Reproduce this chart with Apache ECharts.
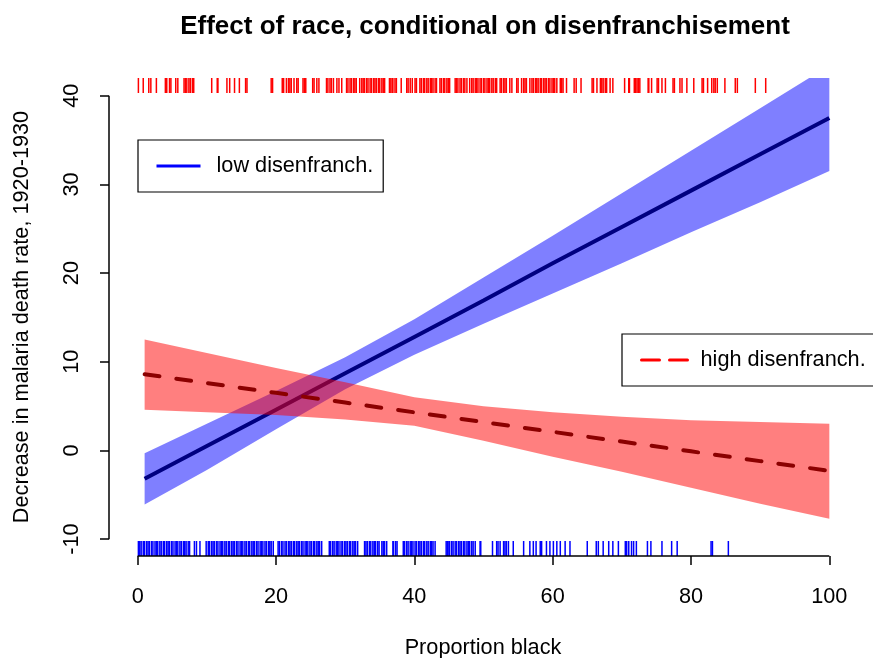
<!DOCTYPE html>
<html><head><meta charset="utf-8">
<script src="https://cdn.jsdelivr.net/npm/echarts@6/dist/echarts.min.js"></script>
<style>html,body{margin:0;padding:0;background:#fff}#c{width:873px;height:658px}</style>
</head><body><div id="c"></div>
<script>
const xTicks = [0, 20, 40, 60, 80, 100];
const yTicks = [-10, 0, 10, 20, 30, 40];
const X_MIN = -4.15, X_MAX = 104, Y_MIN = -11.9, Y_MAX = 42.0;

const bandX     = [1, 10, 20, 30, 40, 50, 60, 70, 80, 90, 100];
const lowFit    = [-3.2, 0.5, 4.6, 8.7, 12.8, 16.9, 21.1, 25.2, 29.3, 33.4, 37.5];
const lowUpper  = [-0.3, 3.0, 6.7, 10.5, 14.8, 19.5, 24.2, 29.0, 33.8, 38.6, 43.4];
const lowLower  = [-6.1, -2.2, 2.4, 6.9, 10.8, 14.3, 17.7, 21.1, 24.6, 28.0, 31.5];
const highFit   = [8.6, 7.6, 6.5, 5.4, 4.3, 3.2, 2.1, 1.0, -0.1, -1.2, -2.3];
const highUpper = [12.5, 11.0, 9.3, 7.7, 6.0, 5.0, 4.3, 3.8, 3.4, 3.2, 3.0];
const highLower = [4.6, 4.3, 4.0, 3.5, 2.8, 1.1, -0.7, -2.4, -4.2, -6.0, -7.7];

const seriesNames = ['low disenfranch.', 'high disenfranch.'];

// rug: proportion black of high-disenfranchisement counties (top, red)
const rugHigh = [0.1, 0.8, 1.6, 1.9, 2.7, 4.0, 4.2, 4.6, 4.8, 5.5, 5.8, 6.7, 6.9, 7.1, 7.4, 7.6, 7.9, 8.1,
  10.7, 11.5, 11.6, 12.9, 13.3, 14.0, 14.7, 15.6, 15.8, 19.3, 19.5, 20.9, 21.1, 21.5, 21.8, 22.0, 22.2,
  22.6, 23.0, 23.2, 23.9, 24.1, 24.3, 25.3, 25.5, 25.9, 26.2, 27.3, 27.5, 27.8, 28.0, 28.3, 28.8, 29.1,
  29.5, 30.2, 30.4, 30.7, 30.9, 31.2, 31.4, 31.6, 32.1, 32.4, 32.6, 32.8, 33.1, 33.3, 33.6, 33.8, 34.1,
  34.3, 34.5, 34.8, 35.0, 35.3, 35.5, 35.7, 36.4, 36.6, 36.8, 36.9, 37.2, 37.4, 38.1, 38.9, 39.1, 39.4,
  39.7, 40.1, 40.3, 40.8, 41.0, 41.3, 41.5, 41.8, 42.0, 42.3, 42.5, 42.7, 43.0, 43.2, 43.7, 43.9, 44.2,
  44.4, 44.7, 44.9, 45.1, 45.9, 46.1, 46.3, 46.6, 46.8, 47.1, 47.3, 47.6, 48.0, 48.3, 48.5, 48.8, 49.0,
  49.2, 49.5, 49.7, 50.0, 50.2, 50.5, 50.7, 50.9, 51.2, 51.4, 51.7, 51.9, 52.4, 52.6, 52.9, 53.1, 53.3,
  53.8, 54.1, 54.8, 55.0, 55.5, 55.8, 56.0, 56.2, 56.7, 57.0, 57.2, 57.5, 57.7, 57.9, 58.2, 58.4, 58.7,
  58.9, 59.1, 59.4, 59.6, 59.9, 60.1, 60.3, 60.6, 61.1, 61.3, 61.5, 62.0, 63.1, 63.4, 64.1, 65.7, 65.9,
  66.4, 66.9, 67.1, 67.3, 67.6, 67.8, 68.3, 68.7, 70.4, 71.0, 71.1, 71.8, 72.0, 72.2, 72.4, 72.6, 73.8,
  73.9, 74.3, 75.1, 75.3, 75.8, 76.3, 77.4, 77.6, 78.4, 78.7, 79.4, 80.4, 81.6, 81.8, 82.4, 83.0, 83.3,
  83.5, 83.8, 84.9, 86.4, 86.7, 89.3, 90.8];

// rug: proportion black of low-disenfranchisement counties (bottom, blue)
const rugLow = [0.1, 0.3, 0.5, 0.8, 1.0, 1.3, 1.5, 1.7, 2.0, 2.2, 2.5, 2.7, 2.9, 3.2, 3.4, 3.7, 3.9, 4.2,
  4.4, 4.6, 4.9, 5.1, 5.4, 5.6, 5.8, 6.1, 6.3, 6.6, 6.8, 7.0, 7.3, 7.5, 8.2, 8.5, 9.0, 9.9, 10.2, 10.4,
  10.7, 10.9, 11.1, 11.4, 11.6, 11.9, 12.1, 12.3, 12.6, 12.8, 13.1, 13.3, 13.6, 13.8, 14.0, 14.3, 14.5,
  14.8, 15.0, 15.2, 15.5, 15.7, 16.0, 16.2, 16.5, 16.7, 16.9, 17.2, 17.4, 17.7, 17.9, 18.1, 18.4, 18.6,
  18.9, 19.1, 19.3, 19.6, 20.3, 20.5, 20.8, 21.0, 21.3, 21.5, 21.8, 22.0, 22.2, 22.5, 22.7, 23.0, 23.2,
  23.4, 23.7, 23.9, 24.2, 24.4, 24.6, 24.9, 25.1, 25.4, 25.6, 25.9, 26.1, 26.3, 26.6, 27.7, 27.9, 28.2,
  28.4, 28.7, 28.9, 29.1, 29.4, 29.6, 29.9, 30.1, 30.3, 30.6, 30.8, 31.1, 31.3, 31.5, 31.8, 32.8, 33.0,
  33.2, 33.5, 33.7, 34.0, 34.2, 34.4, 34.7, 34.9, 35.3, 35.5, 35.7, 36.0, 36.9, 37.0, 37.3, 37.5, 38.4,
  38.6, 38.9, 39.1, 39.4, 39.6, 39.8, 40.1, 40.3, 40.6, 40.8, 41.0, 41.3, 41.5, 41.8, 42.0, 42.3, 42.5,
  42.7, 43.0, 44.6, 44.8, 45.0, 45.1, 45.4, 45.6, 45.9, 46.1, 46.4, 46.6, 46.8, 47.1, 47.3, 47.6, 47.8,
  48.0, 48.3, 48.5, 48.8, 49.5, 49.6, 51.3, 51.9, 52.1, 52.4, 52.9, 53.1, 53.3, 53.6, 54.3, 55.8, 56.7,
  57.2, 57.6, 58.2, 58.4, 59.1, 59.6, 60.1, 60.6, 61.1, 61.8, 62.5, 65.0, 66.3, 66.6, 67.3, 68.1, 68.7,
  69.5, 70.5, 70.7, 71.0, 71.4, 71.7, 72.1, 73.7, 74.2, 75.8, 77.2, 78.0, 82.9, 83.1, 85.4];

const FONT = 'Liberation Sans, Arial, Helvetica, sans-serif';
const FS = 21.7;
const THIN = 1.5;

function bandRenderer(upper, lower, fill) {
  return function (params, api) {
    const pts = [];
    for (let i = 0; i < bandX.length; i++) pts.push(api.coord([bandX[i], upper[i]]));
    for (let i = bandX.length - 1; i >= 0; i--) pts.push(api.coord([bandX[i], lower[i]]));
    return { type: 'polygon', shape: { points: pts }, style: { fill: fill } };
  };
}
function rugRenderer(atTop, color) {
  return function (params, api) {
    const p = api.coord([api.value(0), atTop ? Y_MAX : Y_MIN]);
    const len = 15;
    return { type: 'line',
      shape: { x1: p[0], y1: p[1], x2: p[0], y2: atTop ? p[1] + len : p[1] - len },
      style: { stroke: color, lineWidth: THIN } };
  };
}

const chart = echarts.init(document.getElementById('c'), null, { renderer: 'canvas' });
chart.setOption({
  animation: false,
  backgroundColor: '#ffffff',
  textStyle: { fontFamily: FONT },
  title: {
    text: 'Effect of race, conditional on disenfranchisement',
    left: 480, top: 9, textAlign: 'center',
    textStyle: { fontFamily: FONT, fontSize: 26, fontWeight: 'bold', color: '#000' }
  },
  grid: { left: 109, right: 16, top: 78, bottom: 102, outerBoundsMode: 'none', containLabel: false },
  legend: [
    { data: [{ name: seriesNames[0], lineStyle: { color: '#0000ff', width: 3, type: 'solid' }, itemStyle: { opacity: 0 } }],
      left: 138, top: 140, selectedMode: false, itemWidth: 44, itemHeight: 20,
      padding: [15, 10, 15, 17], borderColor: '#000', borderWidth: 1.2, borderRadius: 0,
      textStyle: { fontFamily: FONT, fontSize: FS, color: '#000', padding: [0, 0, 0, 11] } },
    { data: [{ name: seriesNames[1], lineStyle: { color: '#ff0000', width: 3, type: [18, 10] }, itemStyle: { opacity: 0 } }],
      left: 622, top: 334, selectedMode: false, itemWidth: 46, itemHeight: 20,
      padding: [15, 8, 15, 18], borderColor: '#000', borderWidth: 1.2, borderRadius: 0,
      textStyle: { fontFamily: FONT, fontSize: FS, color: '#000', padding: [0, 0, 0, 8] } }
  ],
  xAxis: {
    type: 'value', min: X_MIN, max: X_MAX,
    axisLine: { show: false, onZero: false }, splitLine: { show: false },
    axisTick: { show: true, customValues: xTicks, length: 9, lineStyle: { color: '#000', width: THIN } },
    axisLabel: { customValues: xTicks, fontFamily: FONT, fontSize: FS, color: '#000', margin: 30 },
    name: 'Proportion black', nameLocation: 'middle', nameGap: 81,
    nameTextStyle: { fontFamily: FONT, fontSize: FS, color: '#000' }
  },
  yAxis: {
    type: 'value', min: Y_MIN, max: Y_MAX,
    axisLine: { show: false, onZero: false }, splitLine: { show: false },
    axisTick: { show: true, customValues: yTicks, length: 9, lineStyle: { color: '#000', width: THIN } },
    axisLabel: { customValues: yTicks, rotate: 90, fontFamily: FONT, fontSize: FS, color: '#000', margin: 26 },
    name: 'Decrease in malaria death rate, 1920-1930', nameLocation: 'middle', nameGap: 76,
    nameTextStyle: { fontFamily: FONT, fontSize: FS, color: '#000' }
  },
  series: [
    { type: 'custom', name: 'low band', data: [[50, 15]], clip: true, z: 1, silent: true,
      renderItem: bandRenderer(lowUpper, lowLower, 'rgba(0,0,255,0.5)') },
    { type: 'line', name: seriesNames[0], data: bandX.map((x, i) => [x, lowFit[i]]), z: 2,
      symbol: 'none', color: '#000080', lineStyle: { color: '#000080', width: 4 } },
    { type: 'custom', name: 'high band', data: [[50, 2]], clip: true, z: 3, silent: true,
      renderItem: bandRenderer(highUpper, highLower, 'rgba(255,0,0,0.5)') },
    { type: 'line', name: seriesNames[1], data: bandX.map((x, i) => [x, highFit[i]]), z: 4,
      symbol: 'none', color: '#8B0000', lineStyle: { color: '#8B0000', width: 4, type: [15, 17], cap: 'round' } },
    { type: 'custom', name: 'rug high', data: rugHigh.map(v => [v, Y_MAX]), clip: false, z: 5, silent: true,
      renderItem: rugRenderer(true, '#ff0000') },
    { type: 'custom', name: 'rug low', data: rugLow.map(v => [v, Y_MIN]), clip: false, z: 5, silent: true,
      renderItem: rugRenderer(false, '#0000ff') },
    { type: 'custom', name: 'axes', data: [[50, 15]], clip: false, z: 6, silent: true,
      renderItem: function (params, api) {
        const a = api.coord([xTicks[0], Y_MIN]), b = api.coord([xTicks[xTicks.length - 1], Y_MIN]);
        const c = api.coord([X_MIN, yTicks[0]]), d = api.coord([X_MIN, yTicks[yTicks.length - 1]]);
        return { type: 'group', children: [
          { type: 'line', shape: { x1: a[0], y1: a[1], x2: b[0], y2: b[1] }, style: { stroke: '#000', lineWidth: THIN } },
          { type: 'line', shape: { x1: c[0], y1: c[1], x2: d[0], y2: d[1] }, style: { stroke: '#000', lineWidth: THIN } }
        ] };
      } }
  ]
});
</script>
</body></html>
